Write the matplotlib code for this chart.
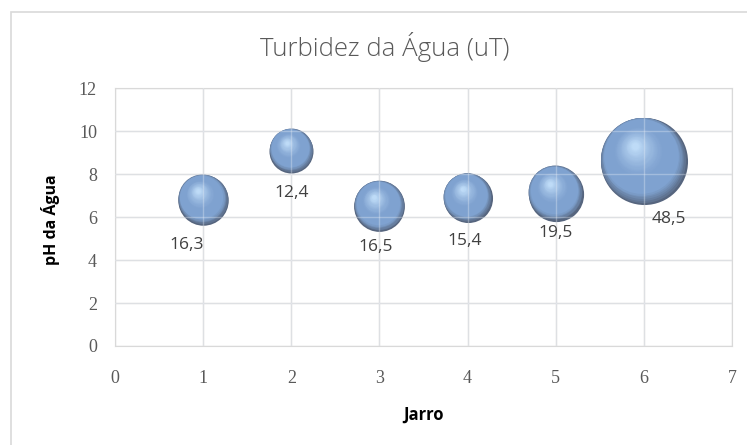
import numpy as np
import matplotlib
matplotlib.use("Agg")
import matplotlib.pyplot as plt
from matplotlib.transforms import offset_copy
from matplotlib.colors import to_rgb
from matplotlib.patches import Rectangle

# data
jarro = [1, 2, 3, 4, 5, 6]
ph = [6.8, 9.1, 6.5, 6.9, 7.1, 8.6]
turbidez = [16.3, 12.4, 16.5, 15.4, 19.5, 48.5]

# label offsets in pixels (dx, dy downwards) from bubble centre
label_offsets = [(-16, 45), (0, 42), (-4, 41), (-3, 43), (0, 39), (25, 58)]

DPI = 100
fig = plt.figure(figsize=(7.47, 4.45), dpi=DPI)
ax = fig.add_axes([115 / 747, 1 - 346 / 445, (732 - 115) / 747, (346 - 88.3) / 445])

# chart frame
fig.patches.append(Rectangle((11 / 747, -0.1), 1.2, 1 - 12 / 445 + 0.1,
                             transform=fig.transFigure, fill=False,
                             edgecolor="#d9d9d9", linewidth=1.2))

ax.set_xlim(0, 7)
ax.set_ylim(0, 12)
ax.set_xticks(range(0, 8))
ax.set_yticks(range(0, 13, 2))
ax.grid(True, color="#d9d9d9", linewidth=1.0)
ax.set_axisbelow(True)
for sp in ax.spines.values():
    sp.set_color("#d9d9d9")
ax.tick_params(length=0, colors="#595959", labelsize=13)
ax.tick_params(axis="x", pad=17)
ax.tick_params(axis="y", pad=13)
for lbl in ax.get_xticklabels() + ax.get_yticklabels():
    lbl.set_family("Liberation Serif")
    lbl.set_color("#595959")

# shaded spheres: stacked circles, shrinking toward a highlight
edge = np.array(to_rgb("#56657e"))
body = np.array(to_rgb("#7fa2d0"))
hi = np.array(to_rgb("#bedbf7"))
px2pt = 72 / DPI
scale = 12.5 * px2pt  # diameter in points per sqrt(value)
N = 40
for x, y, v in zip(jarro, ph, turbidez):
    D = scale * np.sqrt(v)
    for k in range(N):
        t = k / (N - 1)
        f = 1 - 0.92 * t
        if t < 0.15:
            c = edge + (body - edge) * (t / 0.15) ** 0.8
        elif t < 0.45:
            c = body
        else:
            c = body + (hi - body) * ((t - 0.45) / 0.55) ** 1.3
        w = (1 - f) ** 0.6
        dx = -0.11 * D * w
        dy = 0.19 * D * w
        tr = offset_copy(ax.transData, fig=fig, x=dx, y=dy, units="points")
        ax.scatter([x], [y], s=(D * f) ** 2, color=c, linewidths=0,
                   transform=tr, zorder=3)

# bubbles are slightly see-through: gridlines faintly visible on top
for gx in range(1, 7):
    ax.axvline(gx, color="#e8eef6", alpha=0.35, linewidth=1.0, zorder=3.5)
for gy in range(2, 12, 2):
    ax.axhline(gy, color="#e8eef6", alpha=0.35, linewidth=1.0, zorder=3.5)

for x, y, v, (ox, oy) in zip(jarro, ph, turbidez, label_offsets):
    ax.annotate(f"{v:.1f}".replace(".", ","), (x, y),
                xytext=(ox * px2pt, -oy * px2pt), textcoords="offset points",
                ha="center", va="center", fontsize=12.5, color="#404040",
                family="Open Sans", zorder=4)

fig.text(385 / 747, 1 - 47 / 445, "Turbidez da Água (uT)", ha="center",
         va="center", fontsize=18.5, color="#595959", family="Open Sans",
         fontweight="light")
fig.text(50 / 747, 1 - 220 / 445, "pH da Água", rotation=90, ha="center",
         va="center", fontsize=11.5, fontweight="bold", color="#000000",
         family="Open Sans")
fig.text(423 / 747, 1 - 415 / 445, "Jarro", ha="center", va="center",
         fontsize=12, fontweight="bold", color="#000000", family="Open Sans")

fig.savefig("out.png", dpi=DPI)
